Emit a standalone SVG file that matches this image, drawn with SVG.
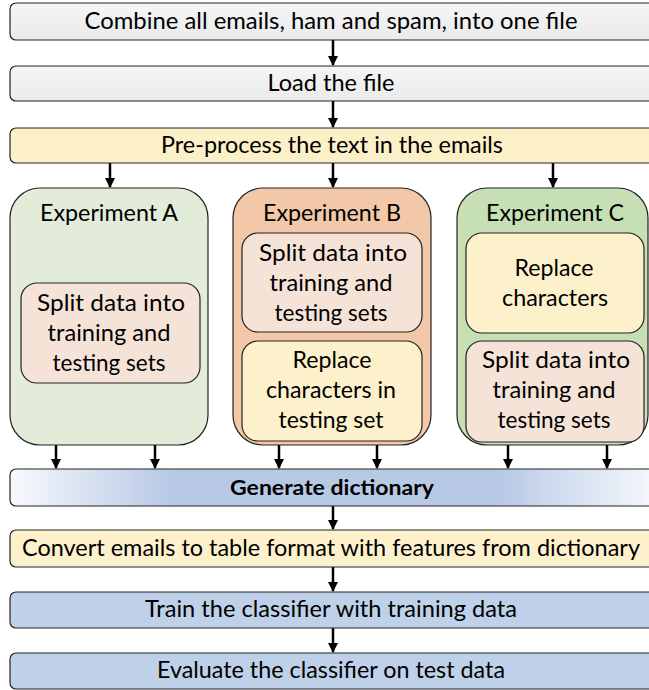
<svg xmlns="http://www.w3.org/2000/svg" width="649" height="690" viewBox="0 0 649 690">
<defs>
<style>
.b{stroke:#222;stroke-width:1.2}
.t{font-family:Lato,"Liberation Sans",sans-serif;font-size:23px;fill:#000;text-anchor:middle}
.bold{font-weight:bold;font-size:21px}
.c{stroke:#000;stroke-width:2.5;fill:none;marker-end:url(#ah)}
</style>
<marker id="ah" viewBox="0 0 10 10" refX="9" refY="5" markerWidth="4" markerHeight="4" orient="auto" markerUnits="strokeWidth">
<path d="M0,0 L10,5 L0,10 z" fill="#000"/>
</marker>
<linearGradient id="gray" x1="0" y1="0" x2="0" y2="1">
<stop offset="0" stop-color="#f5f5f5"/><stop offset="1" stop-color="#ebebeb"/>
</linearGradient>
<linearGradient id="gen" x1="0" y1="0" x2="1" y2="0">
<stop offset="0" stop-color="#f7f9fc"/><stop offset="0.25" stop-color="#b8c9e6"/><stop offset="0.75" stop-color="#b8c9e6"/><stop offset="1" stop-color="#f7f9fc"/>
</linearGradient>
</defs>
<g id="connectors">
<line class="c" x1="333" y1="40" x2="333" y2="65"/>
<line class="c" x1="333" y1="101" x2="333" y2="127"/>
<line class="c" x1="110" y1="163" x2="110" y2="187"/>
<line class="c" x1="333" y1="163" x2="333" y2="187"/>
<line class="c" x1="553" y1="163" x2="553" y2="187"/>
<line class="c" x1="56" y1="445" x2="56" y2="468"/>
<line class="c" x1="155" y1="445" x2="155" y2="468"/>
<line class="c" x1="279" y1="445" x2="279" y2="468"/>
<line class="c" x1="377" y1="445" x2="377" y2="468"/>
<line class="c" x1="508" y1="445" x2="508" y2="468"/>
<line class="c" x1="607" y1="445" x2="607" y2="468"/>
<line class="c" x1="333" y1="506" x2="333" y2="529"/>
<line class="c" x1="333" y1="567" x2="333" y2="591"/>
<line class="c" x1="333" y1="628" x2="333" y2="652"/>
</g>
<g id="combine">
<rect class="b" x="10" y="3" width="650" height="37" rx="6" fill="url(#gray)"/>
<text class="t" x="331" y="29" textLength="493" lengthAdjust="spacingAndGlyphs">Combine all emails, ham and spam, into one file</text>
</g>
<g id="load">
<rect class="b" x="10" y="66" width="650" height="35" rx="6" fill="url(#gray)"/>
<text class="t" x="331" y="91" textLength="127" lengthAdjust="spacingAndGlyphs">Load the file</text>
</g>
<g id="preprocess">
<rect class="b" x="10" y="128" width="650" height="35" rx="6" fill="#fcf0c8"/>
<text class="t" x="332" y="153" textLength="342" lengthAdjust="spacingAndGlyphs">Pre-process the text in the emails</text>
</g>
<g id="expA">
<rect class="b" x="10" y="188" width="198" height="257" rx="30" fill="#e3ecd9"/>
<text class="t" x="109" y="221" textLength="138" lengthAdjust="spacingAndGlyphs">Experiment A</text>
</g>
<g id="expA-split">
<rect class="b" x="21" y="283" width="179" height="100" rx="16" fill="#f6e3d8"/>
<text class="t" x="111" y="311" textLength="148" lengthAdjust="spacingAndGlyphs">Split data into</text>
<text class="t" x="109" y="341" textLength="123" lengthAdjust="spacingAndGlyphs">training and</text>
<text class="t" x="109" y="371" textLength="113" lengthAdjust="spacingAndGlyphs">testing sets</text>
</g>
<g id="expB">
<rect class="b" x="233" y="188" width="198" height="257" rx="30" fill="#f2c8a8"/>
<text class="t" x="332" y="221" textLength="138" lengthAdjust="spacingAndGlyphs">Experiment B</text>
</g>
<g id="expB-split">
<rect class="b" x="242" y="233" width="180" height="99" rx="16" fill="#f6e3d8"/>
<text class="t" x="333" y="261" textLength="148" lengthAdjust="spacingAndGlyphs">Split data into</text>
<text class="t" x="331" y="291" textLength="123" lengthAdjust="spacingAndGlyphs">training and</text>
<text class="t" x="331" y="321" textLength="113" lengthAdjust="spacingAndGlyphs">testing sets</text>
</g>
<g id="expB-replace">
<rect class="b" x="242" y="341" width="180" height="100" rx="16" fill="#fdf1cc"/>
<text class="t" x="332" y="368" textLength="79" lengthAdjust="spacingAndGlyphs">Replace</text>
<text class="t" x="331" y="398" textLength="130" lengthAdjust="spacingAndGlyphs">characters in</text>
<text class="t" x="331" y="428" textLength="105" lengthAdjust="spacingAndGlyphs">testing set</text>
</g>
<g id="expC">
<rect class="b" x="457" y="188" width="191" height="257" rx="30" fill="#c6dfb4"/>
<text class="t" x="555" y="221" textLength="138" lengthAdjust="spacingAndGlyphs">Experiment C</text>
</g>
<g id="expC-replace">
<rect class="b" x="466" y="233" width="178" height="100" rx="16" fill="#fdf1cc"/>
<text class="t" x="554" y="276" textLength="79" lengthAdjust="spacingAndGlyphs">Replace</text>
<text class="t" x="555" y="306" textLength="106" lengthAdjust="spacingAndGlyphs">characters</text>
</g>
<g id="expC-split">
<rect class="b" x="466" y="341" width="178" height="101" rx="16" fill="#f6e3d8"/>
<text class="t" x="556" y="368" textLength="148" lengthAdjust="spacingAndGlyphs">Split data into</text>
<text class="t" x="554" y="398" textLength="123" lengthAdjust="spacingAndGlyphs">training and</text>
<text class="t" x="554" y="428" textLength="113" lengthAdjust="spacingAndGlyphs">testing sets</text>
</g>
<g id="generate">
<rect class="b" x="10" y="469" width="650" height="37" rx="6" fill="url(#gen)"/>
<text class="t bold" x="332" y="495" textLength="204" lengthAdjust="spacingAndGlyphs">Generate dictionary</text>
</g>
<g id="convert">
<rect class="b" x="10" y="530" width="650" height="37" rx="6" fill="#fdf1cc"/>
<text class="t" x="331" y="556" textLength="618" lengthAdjust="spacingAndGlyphs">Convert emails to table format with features from dictionary</text>
</g>
<g id="train">
<rect class="b" x="10" y="592" width="650" height="36" rx="6" fill="#bed1e9"/>
<text class="t" x="331" y="617" textLength="372" lengthAdjust="spacingAndGlyphs">Train the classifier with training data</text>
</g>
<g id="evaluate">
<rect class="b" x="10" y="653" width="650" height="36" rx="6" fill="#bed1e9"/>
<text class="t" x="331" y="678" textLength="348" lengthAdjust="spacingAndGlyphs">Evaluate the classifier on test data</text>
</g>
</svg>
